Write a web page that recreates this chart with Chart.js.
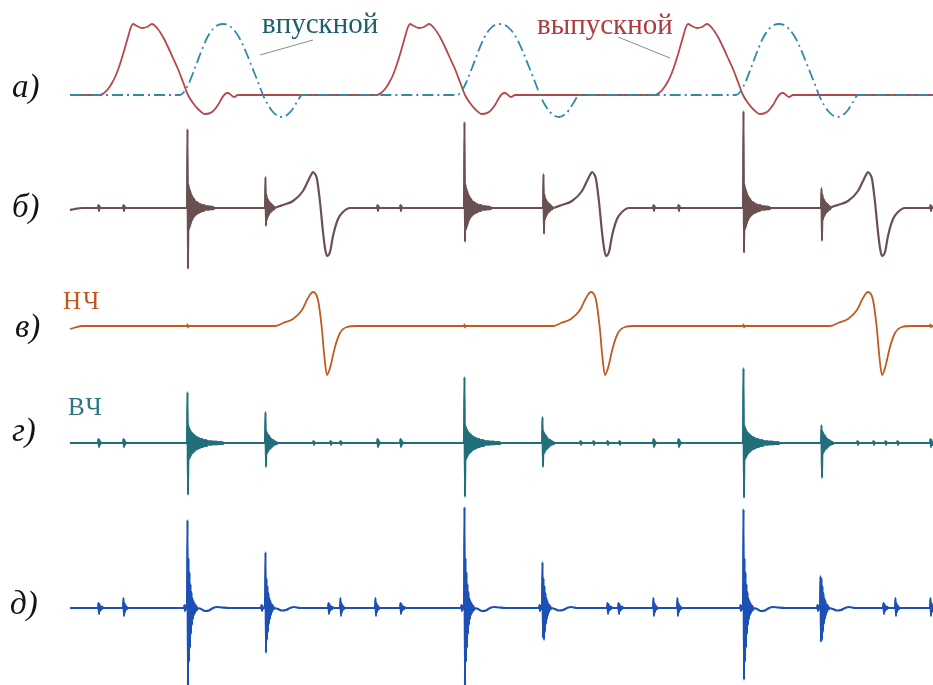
<!DOCTYPE html>
<html>
<head>
<meta charset="utf-8">
<script src="https://cdn.jsdelivr.net/npm/chart.js@4.4.1/dist/chart.umd.min.js"></script>
<style>
html, body { margin: 0; padding: 0; background: #fff; }
#wrap { position: relative; width: 933px; height: 685px; overflow: hidden; }
#chart, #notes { position: absolute; left: 0; top: 0; }
</style>
</head>
<body>
<div id="wrap">
<canvas id="chart" width="933" height="685"></canvas>
<svg id="notes" width="933" height="685">
  <g font-family="Liberation Serif" font-style="italic" font-size="33" fill="#141414">
    <text x="12" y="97">а)</text>
    <text x="12" y="217">б)</text>
    <text x="15" y="337">в)</text>
    <text x="12" y="441">г)</text>
    <text x="10" y="614">д)</text>
  </g>
  <g font-family="Liberation Serif" font-size="29">
    <text x="262" y="33" fill="#1e5f6d">впускной</text>
    <text x="537" y="34" fill="#ae3b40">выпускной</text>
  </g>
  <g stroke="#8a8a8a" stroke-width="1">
    <line x1="260" y1="55" x2="313" y2="40"/>
    <line x1="618" y1="37" x2="670" y2="58"/>
  </g>
  <g font-family="Liberation Serif" font-size="25">
    <text x="63" y="309" fill="#c0561e" letter-spacing="2">НЧ</text>
    <text x="68" y="415" fill="#2a7584" letter-spacing="2">ВЧ</text>
  </g>
</svg>
</div>
<script>
// time axis: 0 .. 860 (one engine cycle ~ 277 units), amplitudes in arbitrary units
const T_END = 860;
const STEP = 0.5;

// а) valve lift: exhaust (solid) and intake (dash-dot), one cycle each
const exhaustLift = [[30,0],[34,2],[38,6],[42,12],[46,20],[50,31],[54,44],[58,58],[61,68],[63,71],[67,69],[72,67],[77,68],[82,71],
  [87,67],[93,58],[98,48],[103,37],[108,26],[113,13],[118,0],[123,-8],[128,-14],[135,-19],[142,-17],[148,-10],[152,-3],[155,1],[158,2],[161,0],[164,-2],[168,0]];
const exhaustShifts = [0, 277, 555];
const intakeLift = [[110,0],[114,3],[119,12],[125,27],[131,43],[137,57],[143,66],[148,70],[153,71],[158,70],[164,65],[170,56],[176,43],[182,28],[188,13],
  [193,0],[198,-10],[203,-17],[208,-21],[212,-22],[217,-20],[222,-15],[227,-7],[232,0]];
const intakeShifts = [0, 277, 556];

// б) raw vibration signal
const bStart = [[0,-2],[5,-1],[12,0]];
const bBlipTimes = [28, 53, 307, 330, 583, 608, 860];
const bBlip = [0,3,-3,2,0];
const bBigTimes = [117, 394, 673];
const bBigPeaks = [[79,-61],[86,-34],[97,-45]];
const bBigTail = [24,-22,20,-19,17,-16,14,-13,12,-11,10,-9,9,-8,7,-7,6,-6,6,-5,5,-5,4,-4,4,-4,3,-3,3,-3,3,-3,3,-2,2,-2,2,-2,2,-2,2,-2,1.5,-1.5,1.5,-1.5,1.5,-1.5,1,-1,1,-1,0];
const bSecondTimes = [195, 473, 751];
const bSecondPeaks = [[31,-18],[34,-26],[20,-33]];
const bSecondTail = [14,-12,10,-9,8,-7,6,-5,5,-4,4,-3,3,-2,2,-1.5,1,0];
const bLowWave = [[207,1],[213,3],[223,7],[233,17],[238,27],[241,33],[243,36],[245,34],[247,29],[250,6],[253,-24],[255,-40],[257,-48],[260,-44],[263,-28],[268,-11],[273,-4],[280,0]];
const lowShifts = [0, 279, 555];

// в) low-frequency part
const vStart = [[0,-3],[5,-1.5],[12,0]];
const vLowWave = [[205,0],[213,3],[223,7],[232,16],[238,28],[243,34],[248,26],[252,-4],[254,-27],[257,-49],[260,-42],[265,-21],[270,-7],[277,-1],[287,0]];
const vShifts = [0, 278, 555];
const vTickTimes = [117, 394, 673, 860];
const vTick = [0,1.5,-1.5,0];

// г) high-frequency part
const gBlipTimes = [28, 53, 307, 330, 583, 608, 860];
const gBlip = [0,4,-4,3,-2,1,0];
const gTinyTimes = [243, 260, 270, 510, 523, 537, 549, 787, 803, 815, 827];
const gTiny = [0,2,-2,1,0];
const gBigTimes = [117, 394, 673];
const gBigPeaks = [[51,-52],[66,-54],[75,-55]];
const gBigTail = [18,-17,15,-15,13,-13,11,-11,10,-10,9,-9,8,-8,7,-7,6,-6,6,-6,5,-5,5,-5,4,-4,4,-4,4,-4,3,-3,3,-3,3,-3,3,-3,
  2,-2,2,-2,2,-2,2,-2,2,-2,1.5,-1.5,1.5,-1.5,1.5,-1.5,1.5,-1.5,1.5,-1.5,1,-1,1,-1,1,-1,1,-1,1,-1,1,-1,0];
const gSecondTimes = [195, 472, 751];
const gSecondPeaks = [[31,-24],[26,-24],[18,-35]];
const gSecondTail = [12,-11,10,-9,8,-7,7,-6,5,-5,4,-4,3,-3,3,-2,2,-2,1.5,-1,1,-1,0];

// д) processed signal
const dSmallTimes = [28, 258, 330, 537, 548, 813];
const dSmall = [0,5,-6,4,-3,2,-2,1.5,-1,1,0];
const dMediumTimes = [53, 270, 305, 583, 607, 825, 860];
const dMedium = [0,10,-8,5,-4,3,-2,1.5,-1,0];
const dPreTimes = [114, 191, 391, 469, 670, 747];
const dPre = [0,3,-3,2,-1,0];
const dBigTimes = [117, 394, 673];
const dBigPeaks = [[88,-80],[101,-80],[99,-72]];
const dBigTail = [50,-54,36,-40,24,-26,16,-17,10,-11,7,-7,5,-5,3,-3,2,-2,0];
const dBigAfter = [[14,-1],[18,-3],[22,-2.5],[26,0],[30,1],[35,0.5],[42,0]];
const dSecondTimes = [195, 472, 750];
const dSecondPeaks = [[56,-45],[46,-30],[32,-34]];
const dSecondTail = [30,-32,22,-24,15,-16,10,-11,7,-7,4,-4,3,-2,1.5,-1,0];
const dSecondAfter = [[13,-1],[17,-2.5],[21,-2],[25,0],[29,1],[35,0]];

// layout: pixel row of each baseline
const rows = { a: 95, b: 208, v: 326, g: 443, d: 608 };
const H = 685;

function addShape(pts, shift, shape) {
  shape.forEach(p => pts.push({ x: p[0] + shift, y: p[1] }));
}
function addSamples(pts, t0, vals) {
  vals.forEach((v, i) => pts.push({ x: t0 + i * STEP, y: v }));
}
function addBursts(pts, times, peaks, tail) {
  times.forEach((t, i) => addSamples(pts, t, [0, peaks[i][0], peaks[i][1]].concat(tail)));
}
function finish(pts, start) {
  if (start) addShape(pts, 0, start); else pts.push({ x: 0, y: 0 });
  pts.push({ x: T_END + 3, y: 0 });
  return pts.sort((p, q) => p.x - q.x);
}

const exhaustPts = [];
exhaustShifts.forEach(s => addShape(exhaustPts, s, exhaustLift));
finish(exhaustPts);

const intakePts = [];
intakeShifts.forEach(s => addShape(intakePts, s, intakeLift));
finish(intakePts);

const bPts = [];
bBlipTimes.forEach(t => addSamples(bPts, t, bBlip));
addBursts(bPts, bBigTimes, bBigPeaks, bBigTail);
addBursts(bPts, bSecondTimes, bSecondPeaks, bSecondTail);
lowShifts.forEach(s => addShape(bPts, s, bLowWave));
finish(bPts, bStart);

const vPts = [];
vTickTimes.forEach(t => addSamples(vPts, t, vTick));
vShifts.forEach(s => addShape(vPts, s, vLowWave));
finish(vPts, vStart);

const gPts = [];
gBlipTimes.forEach(t => addSamples(gPts, t, gBlip));
gTinyTimes.forEach(t => addSamples(gPts, t, gTiny));
addBursts(gPts, gBigTimes, gBigPeaks, gBigTail);
addBursts(gPts, gSecondTimes, gSecondPeaks, gSecondTail);
finish(gPts);

const dPts = [];
dSmallTimes.forEach(t => addSamples(dPts, t, dSmall));
dMediumTimes.forEach(t => addSamples(dPts, t, dMedium));
dPreTimes.forEach(t => addSamples(dPts, t, dPre));
addBursts(dPts, dBigTimes, dBigPeaks, dBigTail);
dBigTimes.forEach(t => addShape(dPts, t, dBigAfter));
addBursts(dPts, dSecondTimes, dSecondPeaks, dSecondTail);
dSecondTimes.forEach(t => addShape(dPts, t, dSecondAfter));
finish(dPts);

function rowScale(base) {
  return { type: 'linear', display: false, min: base - H, max: base };
}

const ds = (data, axis, color, width, extra) => Object.assign({
  data, yAxisID: axis, borderColor: color, borderWidth: width,
  pointRadius: 0, fill: false, cubicInterpolationMode: 'monotone'
}, extra || {});

new Chart(document.getElementById('chart'), {
  type: 'line',
  data: {
    datasets: [
      ds(intakePts, 'ya', '#2e8ba3', 1.8, { borderDash: [11, 4, 2, 4], order: 1 }),
      ds(exhaustPts, 'ya', '#b5474b', 1.8, { order: 2 }),
      ds(bPts, 'yb', '#6b5052', 2.2, { order: 3 }),
      ds(vPts, 'yv', '#c05a1e', 1.8, { order: 4 }),
      ds(gPts, 'yg', '#226f7c', 2.2, { order: 5 }),
      ds(dPts, 'yd', '#1c50b4', 2.2, { order: 6 })
    ]
  },
  options: {
    responsive: false,
    animation: false,
    events: [],
    layout: { padding: 0 },
    plugins: { legend: { display: false }, tooltip: { enabled: false } },
    scales: {
      x: { type: 'linear', display: false, min: -70, max: 863 },
      ya: rowScale(rows.a),
      yb: rowScale(rows.b),
      yv: rowScale(rows.v),
      yg: rowScale(rows.g),
      yd: rowScale(rows.d)
    }
  }
});
</script>
</body>
</html>
